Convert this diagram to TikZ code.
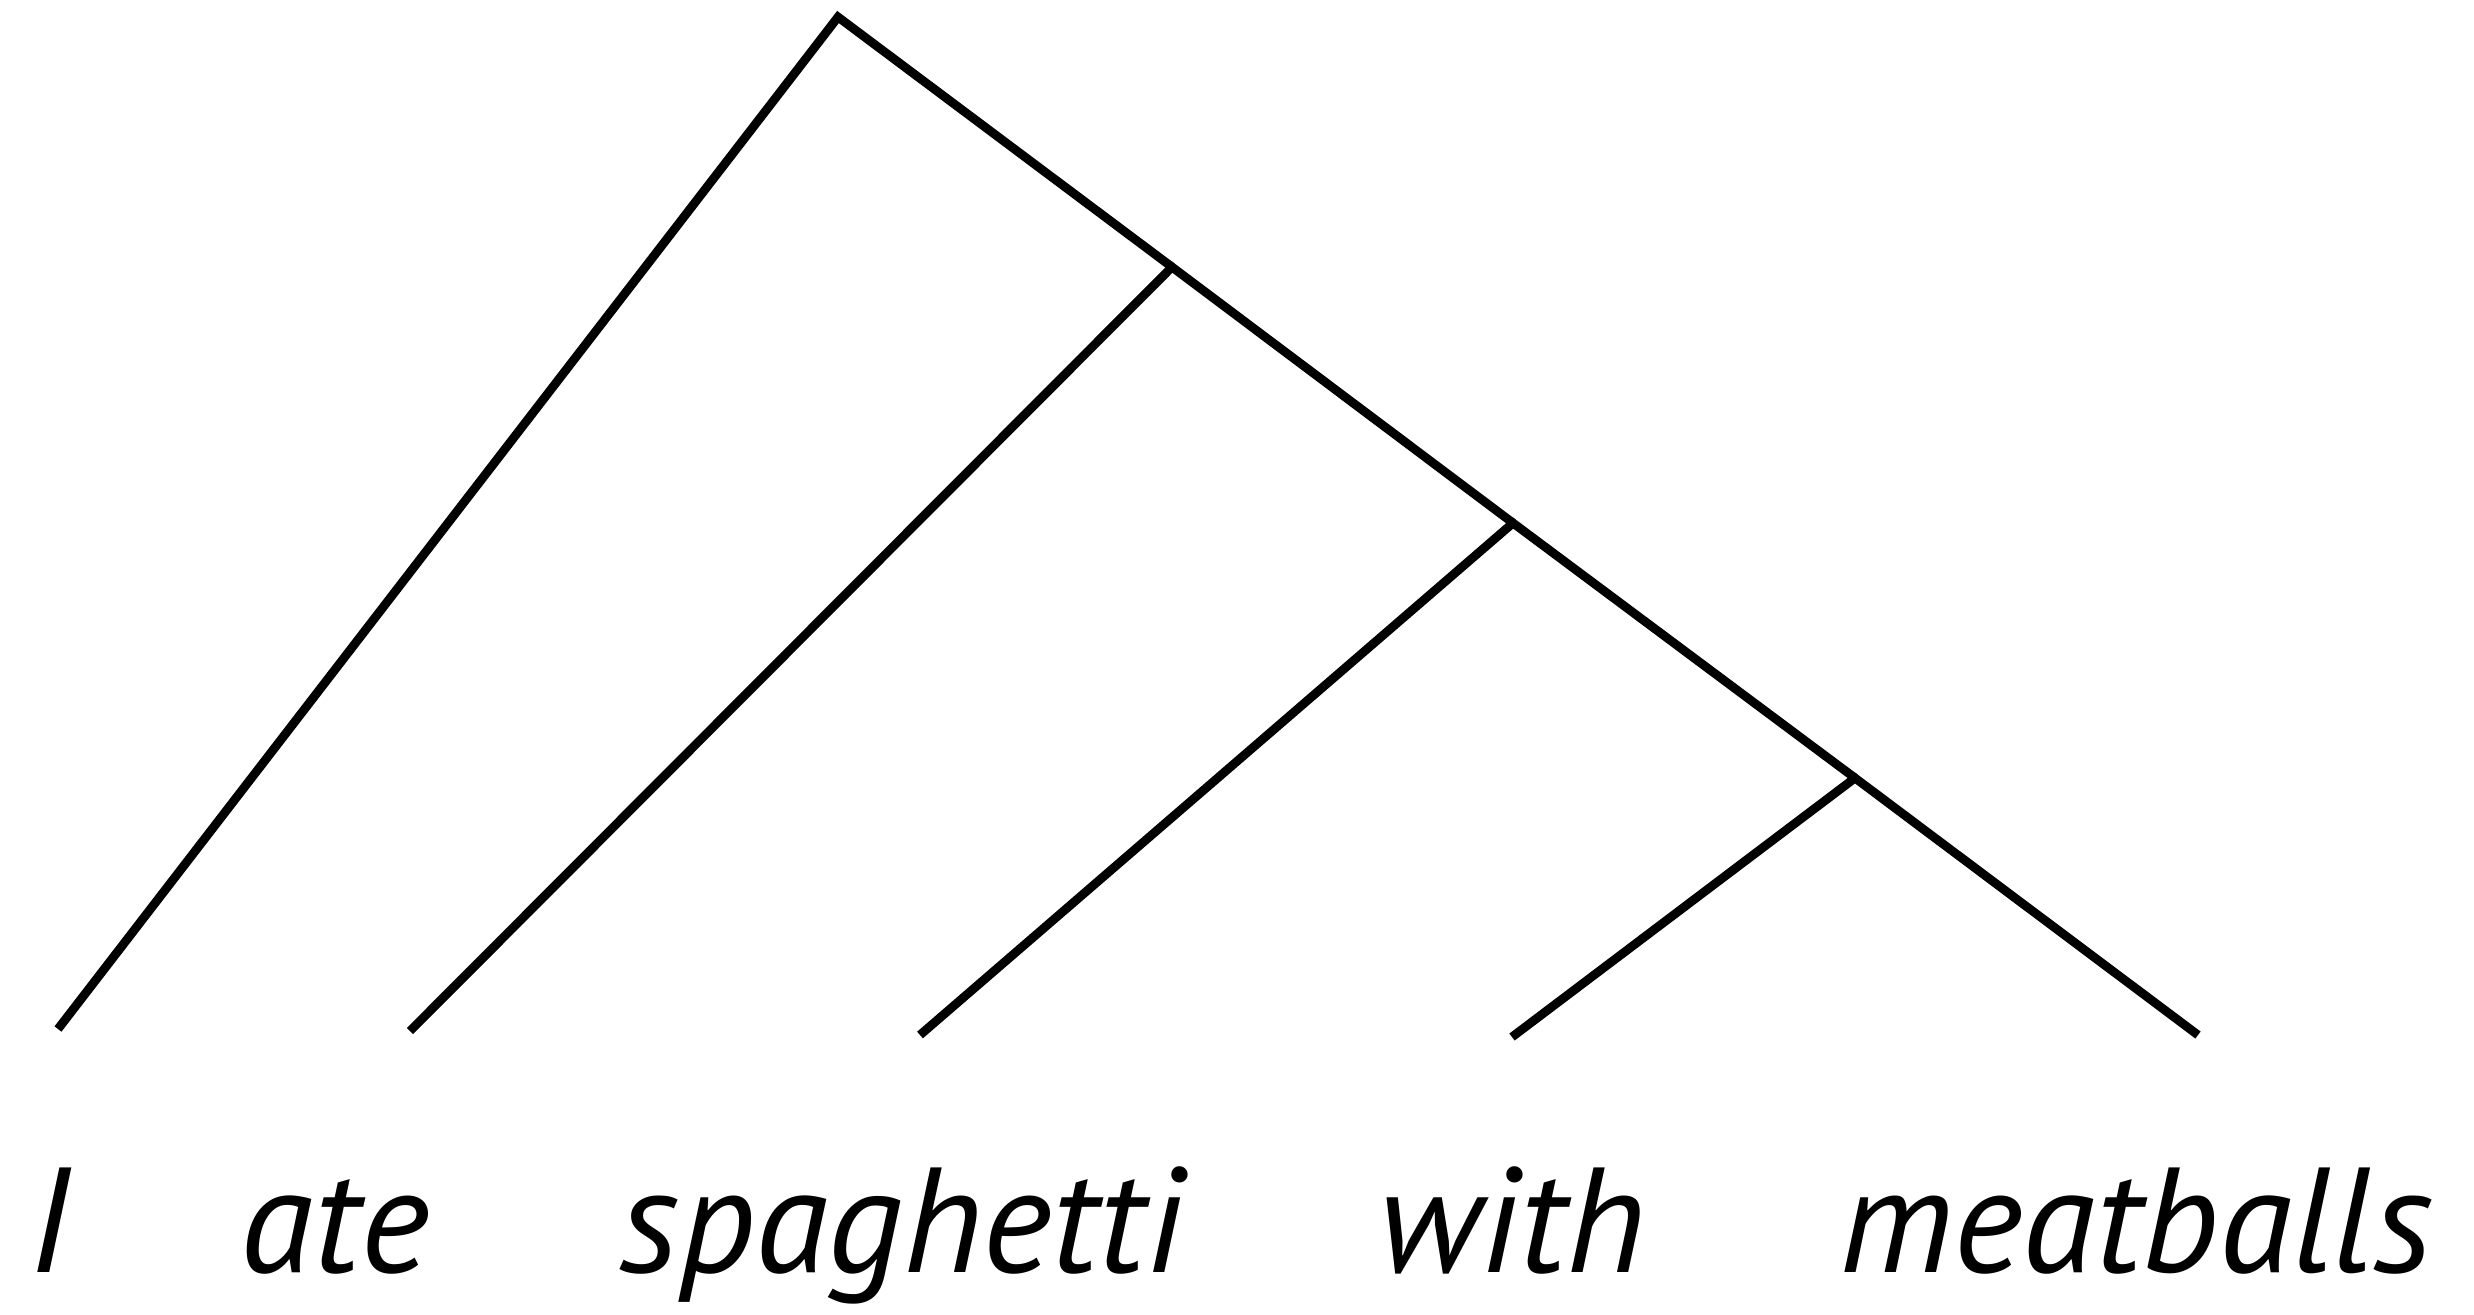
\documentclass[tikz,border=0pt]{standalone}
\usepackage{fontspec}
\setmainfont{PT Sans}
\usetikzlibrary{positioning}
\begin{document}
\begin{tikzpicture}[x=0.01cm,y=-0.01cm,
    br/.style={line width=2.5pt,line join=miter},
    word/.style={font=\fontsize{42.5}{48}\selectfont\itshape,anchor=base,inner sep=0pt}]
  \useasboundingbox (0,0) rectangle (2474,1314);
  % inner nodes of the tree
  \coordinate (root) at (838,17);
  \coordinate (n1) at (1172,267);
  \coordinate (n2) at (1513,523);
  \coordinate (n3) at (1855,778);
  % lower ends of the branches
  \coordinate (eI) at (58,1029);
  \coordinate (eate) at (410,1031);
  \coordinate (espag) at (920,1035);
  \coordinate (ewith) at (1512,1037);
  \coordinate (emeat) at (2198,1035);
  \draw[br] (eI) -- (root) -- (n1);
  \draw[br] (eate) -- (n1) -- (n2);
  \draw[br] (espag) -- (n2) -- (n3);
  \draw[br] (ewith) -- (n3) -- (emeat);
  % words
  \foreach \w/\x/\n in {I/49/wI, ate/335/wate, spaghetti/902/wspag,
      with/1512/wwith, meatballs/2136/wmeat}
    \node[word] (\n) at (\x,1272) {\w};
\end{tikzpicture}
\end{document}
